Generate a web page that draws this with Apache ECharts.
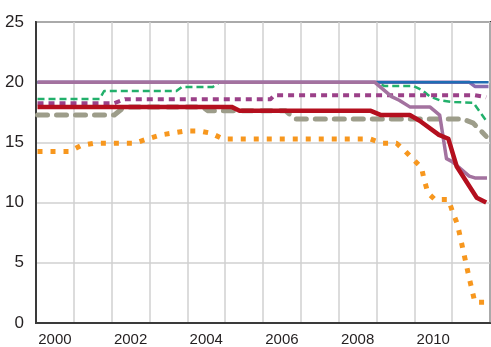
<!DOCTYPE html>
<html>
<head>
<meta charset="utf-8">
<script src="https://cdn.jsdelivr.net/npm/echarts@6/dist/echarts.min.js"></script>
<style>
html,body{margin:0;padding:0;background:#fff;}
#chart{width:491px;height:347px;}
</style>
</head>
<body>
<div id="chart"></div>
<script>
// Category labels (years) and y ticks
var years = ['2000','2001','2002','2003','2004','2005','2006','2007','2008','2009','2010','2011'];
var yTicks = [0, 5, 10, 15, 20, 25];

// Series values as [year, value]
var seriesMedPurple = [[2000.04,20],[2011.45,20],[2011.6,19.65],[2011.96,19.65]];
var seriesBlue = [[2000.04,20],[2011.96,20]];
var seriesGreen = [[2000.04,18.6],[2001.68,18.6],[2001.8,19.27],[2003.71,19.27],[2003.85,19.6],[2004.67,19.6],[2004.85,20],[2008.95,20],[2009.22,19.68],[2009.98,19.68],[2010.2,19.35],[2010.42,18.8],[2010.67,18.5],[2011.0,18.35],[2011.56,18.3],[2011.9,16.8]];
var seriesPurpleDot = [[2000.04,18.26],[2002.07,18.26],[2002.35,18.59],[2006.2,18.59],[2006.3,18.92],[2011.6,18.92],[2011.9,18.75]];
var seriesGray = [[2000.04,17.27],[2002.07,17.27],[2002.34,17.95],[2004.4,17.95],[2004.55,17.62],[2006.6,17.62],[2006.84,16.95],[2011.28,16.95],[2011.56,16.6],[2011.9,15.5]];
var seriesOrange = [[2000.04,14.24],[2000.88,14.24],[2001.19,14.74],[2001.54,14.93],[2002.6,14.93],[2002.95,15.29],[2003.3,15.62],[2003.97,15.95],[2004.32,15.95],[2004.63,15.76],[2004.94,15.29],[2008.82,15.29],[2009.17,14.93],[2009.53,14.93],[2009.75,14.3],[2009.97,13.6],[2010.19,12.9],[2010.26,11.9],[2010.36,10.8],[2010.54,10.26],[2010.9,10.26],[2011.01,9.24],[2011.14,8.19],[2011.29,6.05],[2011.44,3.88],[2011.6,1.73],[2011.9,1.73]];
var seriesMauve = [[2000.04,20],[2008.95,20],[2009.4,18.8],[2009.6,18.5],[2009.88,17.95],[2010.41,17.95],[2010.67,17.27],[2010.85,13.65],[2011.0,13.4],[2011.45,12.2],[2011.6,12.05],[2011.92,12.05]];
var seriesRed = [[2000.04,17.95],[2005.17,17.95],[2005.38,17.62],[2008.85,17.62],[2009.12,17.27],[2009.88,17.27],[2010.14,16.8],[2010.65,15.62],[2010.9,15.3],[2011.12,13.0],[2011.65,10.4],[2011.9,10.0]];

function line(data, color, width, dash, cap, z) {
  return {
    type: 'line', data: data, xAxisIndex: 0, showSymbol: false, symbol: 'none',
    animation: false, z: z,
    lineStyle: { color: color, width: width, type: dash || 'solid', cap: cap || 'butt', join: 'round' }
  };
}

var chart = echarts.init(document.getElementById('chart'), null, {renderer: 'canvas'});
chart.setOption({
  animation: false,
  backgroundColor: '#ffffff',
  grid: { left: 36, right: 1, top: 22, bottom: 23, show: true, borderColor: '#3a3a3a', borderWidth: 2, backgroundColor: 'transparent' },
  xAxis: [
    {
      type: 'value', min: 2000, max: 2012, interval: 1, position: 'bottom',
      axisLabel: { show: false }, axisTick: { show: false },
      axisLine: { show: true, lineStyle: { color: '#3a3a3a', width: 2 } },
      splitLine: { show: true, lineStyle: { color: '#d0d0d0', width: 1.5 } }
    },
    {
      type: 'category', data: years, boundaryGap: true, position: 'bottom',
      axisLine: { show: false }, axisTick: { show: false }, splitLine: { show: false },
      axisLabel: { interval: 1, margin: 9, fontSize: 15, color: '#231f20', fontFamily: 'Liberation Sans, Arial, sans-serif' }
    }
  ],
  yAxis: {
    type: 'value', min: yTicks[0], max: yTicks[yTicks.length - 1], interval: 5,
    axisLine: { show: true, lineStyle: { color: '#3a3a3a', width: 2 } },
    axisTick: { show: false },
    axisLabel: { margin: 12, fontSize: 17, color: '#231f20', fontFamily: 'Liberation Sans, Arial, sans-serif' },
    splitLine: { show: true, lineStyle: { color: '#d0d0d0', width: 1.5 } }
  },
  series: [
    line(seriesMedPurple, '#8a6db0', 3.5, 'solid', 'butt', 1),
    line(seriesBlue, '#1f6db3', 2.5, 'solid', 'butt', 2),
    line(seriesGreen, '#22b06b', 2.5, [7, 4], 'butt', 3),
    line(seriesPurpleDot, '#9b4088', 4, [6, 5], 'butt', 4),
    line(seriesGray, '#9d9d8a', 5, [10, 9], 'round', 5),
    line(seriesOrange, '#f7971e', 5, [5, 8], 'butt', 6),
    line(seriesMauve, '#a3729f', 3.5, 'solid', 'butt', 7),
    line(seriesRed, '#b40f1e', 4.5, 'solid', 'butt', 8)
  ]
});
</script>
</body>
</html>
